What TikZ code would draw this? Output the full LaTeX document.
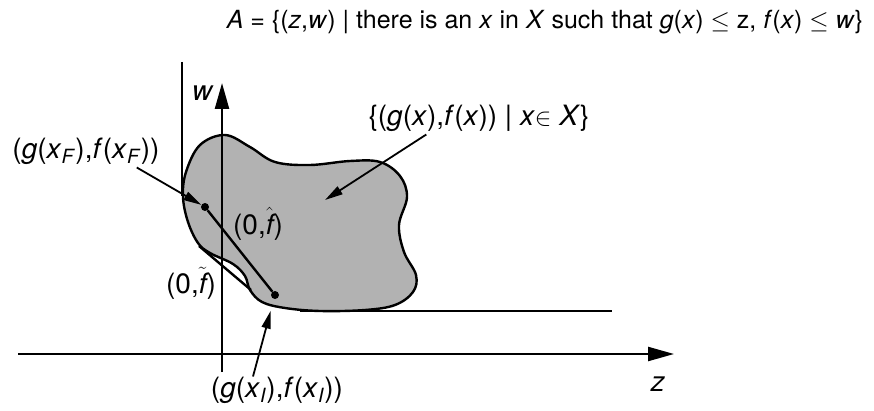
\documentclass[tikz,border=0pt]{standalone}
\usepackage{amsmath}
\usepackage{fontspec}
\setmainfont{TeX Gyre Heros}
\usetikzlibrary{arrows.meta}
\newcommand{\vi}[1]{\textit{#1}}
\newcommand{\sbi}[1]{\textsubscript{\textit{#1}}}

\begin{document}
\begin{tikzpicture}[x=1pt,y=-1pt,>={Triangle[length=26pt,width=14pt]},
  lbl/.style={font=\fontsize{28}{32}\selectfont,inner sep=0pt},
  edge/.style={line width=2.4pt},
  ptr/.style={line width=1.8pt,-{Triangle[length=18pt,width=9pt]}},
  dot/.style={circle,fill,inner sep=0pt,minimum size=8pt}]
\useasboundingbox (0,0) rectangle (874,411);
\draw[edge,fill=black!30] plot[smooth cycle,tension=0.6] coordinates {(225,135) (250,147) (275,162) (310,165) (350,161) (380,162) (400,176) (407,197) (399,225) (404,252) (416,275) (413,292) (395,305) (365,310) (320,311) (285,308) (262,302) (250,290) (245,276) (233,264) (210,253) (198,243) (188,222) (183,197) (186,172) (200,145)};
\coordinate (ztail) at (18,354); \coordinate (zhead) at (674,354);
\coordinate (wtail) at (222,372); \coordinate (whead) at (222,83);
\coordinate (vtop) at (182,62); \coordinate (vbot) at (182,196);
\coordinate (hleft) at (300,311); \coordinate (hright) at (612,311);
\coordinate (chordA) at (199,246); \coordinate (chordB) at (251,290);
\coordinate (inside) at (325,200);
\draw[edge,->] (ztail) -- (zhead);
\draw[edge,->] (wtail) -- (whead);
\draw[line width=2pt] (vtop) -- (vbot);
\draw[edge] (hleft) -- (hright);
\draw[edge] (chordA) -- (chordB);
\node[dot] (xF) at (205,207) {};
\node[dot] (xI) at (275,295) {};
\draw[edge] (xF) -- (xI);
\node[lbl,font=\fontsize{25}{30}\selectfont] (title) at (545,22) {\vi{A} = \{(\vi{z},\vi{w}) | there is an \vi{x} in \vi{X} such that \vi{g}(\vi{x}) $\leq$ z, \vi{f}(\vi{x}) $\leq$ \vi{w}\}};
\node[lbl] (wlbl) at (203,93) {\vi{w}};
\node[lbl] (zlbl) at (658,384) {\vi{z}};
\node[lbl] (setlbl) at (479,118) {\{(\vi{g}(\vi{x}),\vi{f}(\vi{x})) | \vi{x}$\in$ \vi{X}\}};
\node[lbl] (lblF) at (86,151) {(\vi{g}(\vi{x}\sbi{F}),\vi{f}(\vi{x}\sbi{F}))};
\node[lbl] (fhat) at (258,224) {(0,$\hat{\textit{f}}$)};
\node[lbl] (ftil) at (191,283) {(0,$\tilde{\textit{f}}$)};
\node[lbl] (lblI) at (277,390) {(\vi{g}(\vi{x}\sbi{I}),\vi{f}(\vi{x}\sbi{I}))};
\draw[ptr] ([xshift=58pt,yshift=-3pt]setlbl.south west) -- (inside);
\draw[ptr] ([xshift=-23pt,yshift=-3pt]lblF.south east) -- (xF);
\draw[ptr,shorten >=12pt] ([xshift=-24pt]lblI.north) -- (xI);
\end{tikzpicture}
\end{document}
